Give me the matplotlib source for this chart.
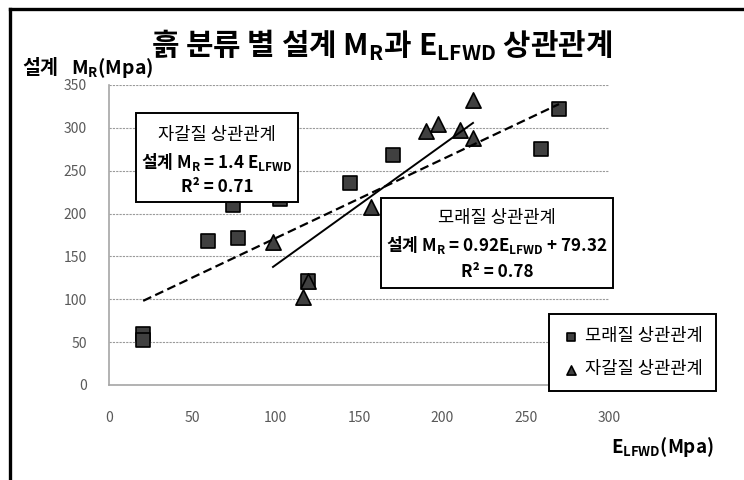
import numpy as np
import matplotlib
matplotlib.use("Agg")
import matplotlib.pyplot as plt
from matplotlib.patches import Rectangle
from matplotlib.lines import Line2D

plt.rcParams['font.family'] = ['Noto Sans CJK KR', 'DejaVu Sans']
plt.rcParams['mathtext.fontset'] = 'custom'
plt.rcParams['mathtext.rm'] = 'Noto Sans CJK KR'
plt.rcParams['mathtext.bf'] = 'Noto Sans CJK KR:bold'

# 모래질 (sand) samples: E_LFWD vs design M_R
sand_e = [20.5, 20.5, 59.4, 74.4, 77.4, 102.6, 119.4, 144.6, 170.4, 259.0, 270.0]
sand_mr = [59, 52, 168, 210, 171.5, 217, 121, 236, 268, 275, 322]

# 자갈질 (gravel) samples
gravel_e = [98.4, 116.4, 119.4, 157.0, 190.0, 197.5, 210.6, 218.4, 218.4]
gravel_mr = [167, 103, 121, 208, 296, 304.5, 297.5, 332.5, 288]

# regression results
sand_slope, sand_icpt, sand_r2 = 0.92, 79.32, 0.78
gravel_slope, gravel_r2 = 1.4, 0.71

x_ticks = [0, 50, 100, 150, 200, 250, 300]
y_ticks = [0, 50, 100, 150, 200, 250, 300, 350]

W, H = 744, 480
fig = plt.figure(figsize=(W / 100, H / 100), dpi=100)


def fx(x):
    return x / W


def fy(y):
    return 1 - y / H


ax = fig.add_axes([fx(109), fy(385), (609 - 109) / W, (385 - 85) / H])

ax.scatter(sand_e, sand_mr, marker='s', s=90, c='#404040', edgecolors='black',
           linewidths=1.2, zorder=3, label='모래질 상관관계')
ax.scatter(gravel_e, gravel_mr, marker='^', s=120, c='#404040', edgecolors='black',
           linewidths=1.2, zorder=3, label='자갈질 상관관계')

# trend lines over each data range
xs = np.array([min(sand_e), max(sand_e)])
ax.plot(xs, sand_slope * xs + sand_icpt, color='black', lw=1.6,
        linestyle=(0, (4, 2)), zorder=4)
xg = np.array([min(gravel_e), max(gravel_e)])
ax.plot(xg, gravel_slope * xg, color='black', lw=1.4, zorder=4)

ax.set_xlim(0, 300)
ax.set_ylim(0, 350)
ax.set_xticks(x_ticks)
ax.set_yticks(y_ticks)
ax.tick_params(length=0, labelsize=10, colors='#595959')
ax.tick_params(axis='x', pad=19)
ax.tick_params(axis='y', pad=16)
ax.yaxis.grid(True, color='#9a9a9a', lw=0.8, linestyle=(0, (2, 1)))
ax.set_axisbelow(True)
for side in ['top', 'right']:
    ax.spines[side].set_visible(False)
for side in ['left', 'bottom']:
    ax.spines[side].set_color('#a6a6a6')
    ax.spines[side].set_linewidth(1.2)

leg = ax.legend(loc='upper left', bbox_to_anchor=(fx(549), fy(314)),
                bbox_transform=fig.transFigure, frameon=True, fancybox=False,
                edgecolor='black', framealpha=1, fontsize=12.7, markerscale=0.6,
                handlelength=1.0, handletextpad=0.3, labelspacing=0.85,
                borderpad=0.75, borderaxespad=0)
leg.get_frame().set_linewidth(1.4)

# titles and axis captions
fig.text(fx(382), fy(45), r'흙 분류 별 설계 $\mathregular{M_R}$과 $\mathregular{E_{LFWD}}$ 상관관계',
         ha='center', va='center', fontsize=21.5, fontweight='bold')
fig.text(fx(22), fy(68), r'설계   $\mathregular{M_R}$(Mpa)', ha='left', va='center',
         fontsize=14, fontweight='bold')
fig.text(fx(714), fy(447), r'$\mathregular{E_{LFWD}}$(Mpa)', ha='right', va='center',
         fontsize=13.5, fontweight='bold')


def eq_box(x0, y0, x1, y1, lines):
    fig.add_artist(Rectangle((fx(x0), fy(y1)), (x1 - x0) / W, (y1 - y0) / H,
                             transform=fig.transFigure, fc='white', ec='black',
                             lw=1.4, zorder=5))
    cx = (x0 + x1) / 2
    for ty, txt, wt, sz in lines:
        fig.text(fx(cx), fy(ty), txt, ha='center', va='center', fontsize=sz,
                 fontweight=wt, zorder=6)


eq_box(136, 113, 298, 202, [
    (135, '자갈질 상관관계', 'normal', 12.7),
    (162, r'설계 $\mathregular{M_R}$ = %.1f $\mathregular{E_{LFWD}}$' % gravel_slope, 'bold', 12.3),
    (187, 'R² = %.2f' % gravel_r2, 'bold', 12.3),
])
eq_box(381, 198, 613, 288, [
    (218, '모래질 상관관계', 'normal', 12.7),
    (245, r'설계 $\mathregular{M_R}$ = %.2f$\mathregular{E_{LFWD}}$ + %.2f' % (sand_slope, sand_icpt), 'bold', 12.3),
    (272, 'R² = %.2f' % sand_r2, 'bold', 12.3),
])

# frame edges along the top and left
fig.add_artist(Line2D([fx(10), 1], [fy(9), fy(9)], transform=fig.transFigure,
                      color='black', lw=2.4))
fig.add_artist(Line2D([fx(10), fx(10)], [fy(9), 0], transform=fig.transFigure,
                      color='black', lw=2.4))

fig.savefig('out.png', dpi=100)
